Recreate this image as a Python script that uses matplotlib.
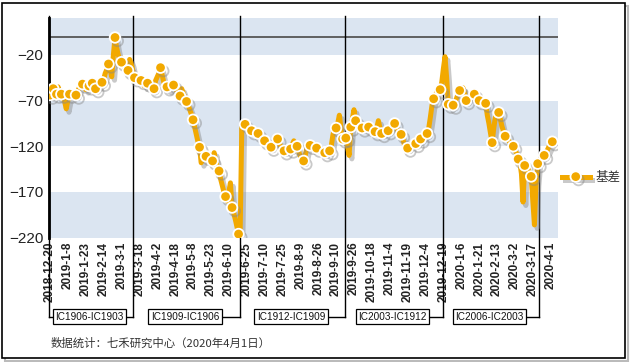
import numpy as np
import matplotlib
matplotlib.use("Agg")
import matplotlib.pyplot as plt
import matplotlib.patheffects as pe
import matplotlib.transforms as mtransforms
from matplotlib.patches import Rectangle

plt.rcParams['font.family'] = ['Liberation Sans', 'Noto Sans CJK SC', 'DejaVu Sans']

# tick labels every 11 trading days
tick_labels = ['2018-12-20', '2019-1-8', '2019-1-23', '2019-2-14', '2019-3-1',
               '2019-3-18', '2019-4-2', '2019-4-18', '2019-5-8', '2019-5-23',
               '2019-6-10', '2019-6-25', '2019-7-10', '2019-7-25', '2019-8-9',
               '2019-8-26', '2019-9-10', '2019-9-26', '2019-10-18', '2019-11-4',
               '2019-11-19', '2019-12-4', '2019-12-19', '2020-1-6', '2020-1-21',
               '2020-2-13', '2020-3-2', '2020-3-17', '2020-4-1']

# daily basis (one row = 11 trading days)
basis = [
    -64, -60, -57, -62, -63, -55, -61, -63, -65, -71, -79,
    -70, -63, -62, -64, -63, -64, -60, -56, -54, -52, -55,
    -58, -56, -54, -52, -51, -54, -57, -55, -53, -51, -50,
    -47, -40, -36, -30, -36, -44, -20, -1, -12, -20, -25,
    -28, -31, -34, -36, -37, -25, -30, -38, -45, -44, -46,
    -47, -48, -50, -54, -53, -51, -54, -57, -58, -57, -48,
    -44, -40, -34, -42, -50, -56, -55, -58, -54, -51, -53,
    -56, -60, -63, -65, -57, -62, -67, -71, -75, -80, -85,
    -91, -99, -107, -115, -121, -138, -134, -130, -131, -135, -129,
    -134, -136, -127, -138, -142, -147, -156, -163, -170, -175, -180,
    -170, -160, -187, -193, -200, -208, -216, -212, -98, -99, -96,
    -98, -101, -103, -103, -104, -105, -106, -106, -109, -112, -114,
    -114, -117, -120, -121, -121, -118, -115, -112, -112, -116, -121,
    -124, -125, -124, -123, -122, -123, -118, -114, -118, -120, -126,
    -131, -134, -136, -130, -122, -119, -119, -121, -122, -121, -122,
    -123, -125, -127, -127, -127, -126, -125, -125, -120, -108, -100,
    -100, -95, -86, -100, -112, -111, -111, -120, -130, -99, -90,
    -80, -92, -95, -97, -99, -100, -99, -98, -98, -99, -101,
    -103, -104, -104, -100, -92, -100, -106, -105, -104, -103, -103,
    -101, -98, -96, -95, -98, -104, -107, -107, -112, -118, -121,
    -122, -120, -118, -117, -117, -117, -115, -113, -112, -110, -108,
    -107, -106, -100, -88, -75, -68, -65, -60, -58, -58, -50,
    -35, -22, -45, -74, -73, -74, -75, -72, -68, -63, -59,
    -62, -56, -62, -70, -68, -66, -64, -63, -63, -66, -68,
    -70, -71, -72, -73, -73, -86, -95, -106, -116, -100, -88,
    -84, -83, -90, -98, -104, -109, -111, -113, -116, -118, -120,
    -124, -128, -134, -137, -150, -181, -141, -143, -145, -150, -153,
    -180, -206, -160, -139, -136, -133, -131, -130, -127, -124, -120,
    -117, -115,
]

# trading days that carry a marker
marker_days = [0, 2, 4, 7, 12, 16, 20, 24, 26, 28, 32, 36, 40, 44, 48, 52, 56, 60,
               64, 68, 72, 76, 80, 84, 88, 92, 96, 100, 104, 108, 112, 116, 120,
               124, 128, 132, 136, 140, 144, 148, 152, 156, 160, 164, 169, 172,
               176, 180, 182, 185, 188, 192, 196, 200, 204, 208, 212, 216, 220,
               225, 228, 232, 236, 240, 245, 248, 252, 256, 261, 264, 268, 272,
               276, 280, 285, 288, 292, 296, 300, 304, 309]

# contract roll points (trading day index) and contract pair names
roll_days = [51, 117, 181.5, 242, 301]
pairs = ['IC1906-IC1903', 'IC1909-IC1906', 'IC1912-IC1909',
         'IC2003-IC1912', 'IC2006-IC2003']

orange = '#F2A900'
band = '#DBE5F1'
W, H = 634, 362

fig = plt.figure(figsize=(W / 100, H / 100), dpi=100)
ax = fig.add_axes([49 / W, 1 - 237.7 / H, (558 - 49) / W, (237.7 - 18.3) / H])

x = np.arange(len(basis))
for lo, hi in [(-220, -170), (-120, -70), (-20, 20)]:
    ax.axhspan(lo, hi, color=band, lw=0, zorder=0)
ax.axhline(0, color='#555555', lw=1.3, zorder=1)

shadow = [pe.SimpleLineShadow(offset=(2, -2.5), shadow_color='#888888', alpha=0.45), pe.Normal()]
ax.plot(x, basis, color=orange, lw=3.6, zorder=3, path_effects=shadow)
ax.plot(x[marker_days], np.array(basis)[marker_days], ls='none', marker='o', ms=7.6,
        mfc=orange, mec='white', mew=1.3, zorder=4, path_effects=shadow)

ax.set_xlim(-0.6, 312.5)
ax.set_ylim(-220, 20)
ax.set_yticks(np.arange(-220, 0, 50))
ax.tick_params(axis='y', length=0, pad=4, labelsize=11, labelcolor='#222222')
ax.set_xticks(np.arange(len(tick_labels)) * 11)
ax.set_xticklabels(tick_labels, rotation=90, fontsize=8.5, fontweight='bold', color='#222222')
ax.tick_params(axis='x', length=0, pad=3)
for s in ['top', 'right', 'bottom']:
    ax.spines[s].set_visible(False)
ax.spines['left'].set_linewidth(2)
ax.spines['left'].set_color('black')

# roll brackets reaching down to the contract boxes
trans = mtransforms.blended_transform_factory(ax.transData, fig.transFigure)
y_top = 1 - 16 / H
y_bot = 1 - 316.5 / H
edges = [-0.6] + roll_days
ax.plot([edges[0], edges[0]], [y_top, y_bot], color='black', lw=1, transform=trans, clip_on=False)
for i, name in enumerate(pairs):
    left, right = edges[i], edges[i + 1]
    mid = (left + right) / 2
    ax.plot([right, right], [y_top, y_bot], color='black', lw=1, transform=trans, clip_on=False)
    start = left if i == 0 else mid
    ax.plot([start, right], [y_bot, y_bot], color='black', lw=1, transform=trans, clip_on=False)
    ax.text(mid - 1, y_bot, name, transform=trans, ha='center', va='center', fontsize=7.2,
            color='#111111', zorder=10,
            bbox=dict(boxstyle='square,pad=0.25', fc='white', ec='black', lw=0.9))

# legend
ax.plot([], [], color=orange, lw=3.6, marker='o', ms=7.6, mfc=orange, mec='white', mew=1.3,
        label='基差', path_effects=shadow)
leg = ax.legend(loc='center left', bbox_to_anchor=(562 / W, 1 - 178 / H),
                bbox_transform=fig.transFigure, frameon=False, fontsize=9,
                handlelength=2.2, handletextpad=0.5, numpoints=1,
                borderpad=0, borderaxespad=0)
for t in leg.get_texts():
    t.set_color('#333333')

fig.text(51 / W, 1 - 343 / H, '数据统计：七禾研究中心（2020年4月1日）', fontsize=8.2,
         color='#333333', va='center', ha='left',
         family=['Noto Sans CJK SC', 'DejaVu Sans'])

# outer frame with a light shadow
fig.patches.append(Rectangle((5 / W, 1 - 361 / H), 623 / W, 355 / H, transform=fig.transFigure,
                             fc='none', ec='#BBBBBB', lw=1.5, zorder=0))
fig.patches.append(Rectangle((2 / W, 1 - 358 / H), 623 / W, 355 / H, transform=fig.transFigure,
                             fc='white', ec='black', lw=1.2, zorder=0.5))
ax.set_zorder(2)
ax.patch.set_alpha(0)

fig.savefig('out.png', dpi=100)
